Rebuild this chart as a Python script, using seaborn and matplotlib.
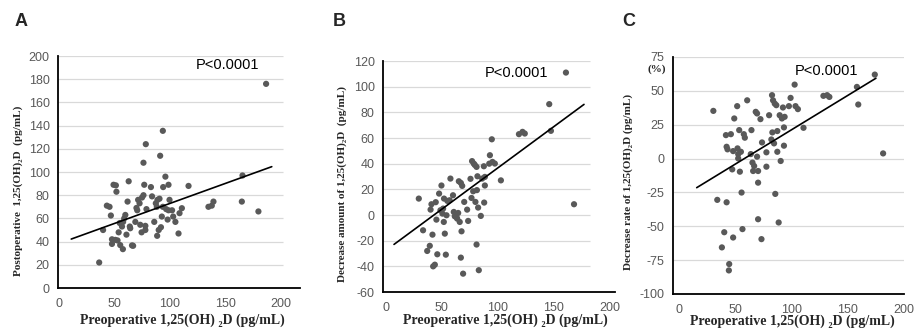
import matplotlib
matplotlib.use("Agg")
import matplotlib.pyplot as plt
import pandas as pd
import seaborn as sns

sns.set_theme(style="white")
plt.rcParams["font.family"] = ["Liberation Sans", "DejaVu Sans"]
plt.rcParams["axes.unicode_minus"] = False

# ---- data ----
# Panel A: preoperative vs postoperative 1,25(OH)2D
a_pre = [36.5, 40, 43.4, 45.8, 47, 48, 48, 49.4, 51.5, 52, 51, 53, 54, 55, 55.4,
         57.8, 57, 58, 59, 60, 61, 62, 63, 64, 64.4, 66, 67, 69, 70, 70.7, 71.5,
         72.8, 73.4, 74.6, 75, 76.3, 77, 76.3, 78, 78, 78.4, 79, 83, 84, 86, 87.4,
         88.3, 88.6, 90, 90.7, 91.3, 92, 92.8, 93.7, 93.7, 94, 96, 96.7, 98, 98.8,
         99.7, 98.8, 102, 103, 105, 107.8, 108.7, 110.8, 116.8, 134.7, 137.7,
         139.2, 164.7, 165.3, 179.6, 186.5, 88.9]
a_post = [22, 50, 71, 70, 62.5, 42, 38, 89, 88.5, 83, 41.5, 41, 48, 56, 37,
          33.5, 53, 57, 60, 63, 46, 74.5, 92, 53, 51.5, 36.7, 36.4, 57, 69, 67, 76,
          73, 54.5, 48, 78, 80, 89, 108, 53.6, 50, 124, 68, 87, 79, 57, 73,
          70, 45, 50, 77, 114, 52.4, 61.6, 70, 135.5, 87, 96, 68, 59, 89,
          76, 67, 67, 61.6, 57, 47, 64.5, 68.8, 88, 70, 71,
          74.5, 74.5, 97, 66, 176, 76]

# Panel B: preoperative vs decrease amount
b_pre = [29.5, 33.3, 37, 39.3, 40, 40.8, 41.7, 42.3, 43.8, 44.6, 45.2, 46, 47.6,
         48.8, 49.7, 50.6, 51.2, 51.8, 52, 52.7, 53.6, 54.2, 55, 57, 57.7, 60,
         60.7, 61.6, 63, 63.7, 64.6, 65.2, 66, 67, 67.6, 68.2, 67, 69, 70, 72.6,
         73.5, 75.6, 76.5, 77, 78, 78.6, 79.5, 80, 81, 81.3, 81, 81.8, 82.4, 83,
         84.8, 86, 87.5, 87.8, 88.4, 88.4, 92.3, 92.9, 94.6, 95.2, 97.3, 102.7,
         118.8, 122, 124, 145.8, 147.3, 160.7, 167.9]
b_dec = [12.8, -11.9, -28, -24, 4.2, 8.4, -15.3, -40, -38.7, 10, -3.6, -30.6, 16.7,
         3.7, 23, 1.1, 5, -5.4, 12.8, -14.5, -30.9, -0.2, 11, 11.5, 28.4, 15.4,
         2.4, -1, -1.5, -2.8, 1.6, 26.3, -5.4, 25, -12.7, 22.7, -33.2, -45.7, 10.2, 4.2,
         -4.6, 28.2, 13.3, 42, 18.5, 40, 39, 10.2, 37.5, 19.4, -23, 30.2, 5.8, -43,
         -0.7, 28.4, 38, 9.7, 23, 29.7, 40, 46.6, 59, 41.4, 40.1, 27,
         63, 64.8, 63.5, 86.4, 65.6, 111, 8.4]

# Panel C: preoperative vs decrease rate (%)
c_pre = [30.4, 33.9, 40.1, 38, 41.6, 42.2, 43, 42.2, 44.5, 44.2, 46, 47.2, 48, 48,
         49, 51.6, 51.9, 52.5, 52.5, 53.4, 54, 54.9, 55.5, 56.3, 57.5, 58.4, 60.5,
         63.7, 64.3, 65.2, 65.8, 66.7, 68.1, 69.3, 69.3, 70.2, 70.2, 70.2, 72.3,
         73.2, 73.7, 77.6, 77.6, 80, 82, 82.6, 82.9, 83.5, 84.4, 85, 85.5, 86.4,
         87.3, 87.3, 88.5, 89.4, 90.3, 91.4, 92.3, 93.2, 93.2, 93.8, 97.6, 99.1,
         102.7, 103.5, 105.6, 110.6, 128.3, 131.6, 133.6, 158.1, 159.3, 174, 181.4]
c_rate = [35.2, -30.5, -54.4, -65.6, 17.3, 8.7, 6.8, -32.3, -77.9, -82.6, 18, -8, 5.5, -58.3,
          29.6, 38.7, 7.5, 3.3, 0.1, 21, -9.7, 5, -25.1, -52.1, 18, 15.4, 43,
          3.3, 21, -3, -9.2, -5.5, 34.5, 33.3, 1.4, -9.2, -17.8, -44.8, 29.1,
          -59.5, 11.9, 4.6, -6, 32, 14.1, 46.8, 19.3, 43, 11.2, 40.6, -26.1, 39.4,
          20.3, 5, -47.2, 32, -1.8, 29.6, 37.7, 23, 9.5, 30.8, 38.7, 44.8,
          54.6, 38.7, 36.5, 22.7, 46.3, 46.8, 45.5, 52.9, 39.9, 62, 3.8]

# fitted trend lines (end points)
a_trend_x = [11.4, 191.6]
a_trend_y = [42.2, 104.6]
b_trend_x = [7.4, 176.8]
b_trend_y = [-22.9, 86.2]
c_trend_x = [15.6, 175]
c_trend_y = [-21.5, 59.3]

X_LABEL = "Preoperative 1,25(OH) \u2082D (pg/mL)"
Y_LABELS = [
    "Postoperative  1,25(OH)\u2082D  (pg/mL)",
    "Decrease amount of 1,25(OH)\u2082D  (pg/mL)",
    "Decrease rate of 1,25(OH)\u2082D (pg/mL)",
]
Y_TICKS = [list(range(0, 201, 20)), list(range(-60, 121, 20)), list(range(-100, 76, 25))]
X_TICKS = [0, 50, 100, 150, 200]

SERIF = ["Liberation Serif", "DejaVu Serif"]
DOT = "#595959"
GRID = "#d9d9d9"

panels = [
    dict(x=a_pre, y=a_post, tx=a_trend_x, ty=a_trend_y, letter="A",
         rect=[0.0634, 0.1377, 0.2645, 0.6946], xlim=(-0.5, 217), ylim=(0, 200),
         grid_end=202, p_pos=(123, 192), ylab=(-0.145, 0.418), xlab=(0.512, -0.112),
         letter_xy=(15, 21)),
    dict(x=b_pre, y=b_dec, tx=b_trend_x, ty=b_trend_y, letter="B",
         rect=[0.4186, 0.1257, 0.2536, 0.6916], xlim=(-2.4, 204.5), ylim=(-60, 120),
         grid_end=182, p_pos=(88, 111), ylab=(-0.155, 0.468), xlab=(0.526, -0.095),
         letter_xy=(333, 21)),
    dict(x=c_pre, y=c_rate, tx=c_trend_x, ty=c_trend_y, letter="C",
         rect=[0.7355, 0.1198, 0.2525, 0.7096], xlim=(-5.5, 200), ylim=(-100, 75),
         grid_end=200, p_pos=(103, 65), ylab=(-0.173, 0.473), xlab=(0.515, -0.085),
         letter_xy=(622, 21)),
]

fig = plt.figure(figsize=(9.15, 3.34), dpi=100)

for i, p in enumerate(panels):
    ax = fig.add_axes(p["rect"])
    df = pd.DataFrame({"x": p["x"], "y": p["y"]})
    ax.set_xlim(*p["xlim"])
    ax.set_ylim(*p["ylim"])

    # Excel-like horizontal gridlines
    ax.hlines(Y_TICKS[i][1:], p["xlim"][0], p["grid_end"], color=GRID, lw=0.9, zorder=0)

    sns.scatterplot(data=df, x="x", y="y", ax=ax, color=DOT, s=20,
                    edgecolor="none", zorder=3)
    ax.plot(p["tx"], p["ty"], color="black", lw=1.2, zorder=4)

    ax.set_xticks(X_TICKS)
    ax.set_yticks(Y_TICKS[i])
    ax.tick_params(axis="both", length=0, labelsize=9, labelcolor="#595959")
    ax.tick_params(axis="x", pad=7)
    ax.tick_params(axis="y", pad=6)

    for side in ["top", "right"]:
        ax.spines[side].set_visible(False)
    for side in ["left", "bottom"]:
        ax.spines[side].set_color("black")
        ax.spines[side].set_linewidth(1.3)

    ax.set_xlabel(X_LABEL, family=SERIF, fontweight="bold", fontsize=10)
    ax.set_ylabel(Y_LABELS[i], family=SERIF, fontweight="bold", fontsize=8)
    ax.xaxis.set_label_coords(*p["xlab"])
    ax.yaxis.set_label_coords(*p["ylab"])

    ax.text(p["p_pos"][0], p["p_pos"][1], "P<0.0001", fontsize=10.5,
            color="black", va="center", ha="left")

    fig.text(p["letter_xy"][0] / 915, 1 - p["letter_xy"][1] / 334, p["letter"],
             fontsize=13, fontweight="bold", va="center", ha="left")

# unit marker above the top tick of panel C
fig.text(657 / 915, 1 - 69 / 334, "(%)", family=SERIF, fontweight="bold",
         fontsize=8, ha="center", va="center")

fig.savefig("out.png", dpi=100)
